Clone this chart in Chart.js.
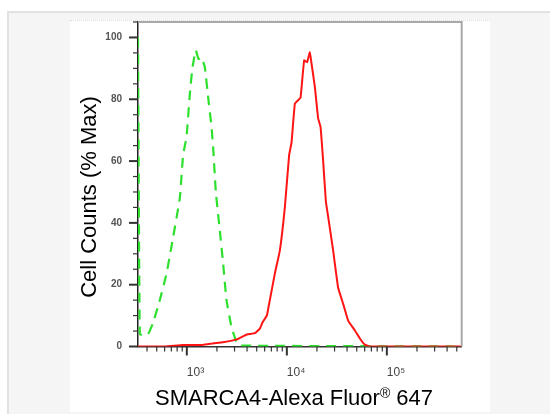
<!DOCTYPE html>
<html>
<head>
<meta charset="utf-8">
<script src="https://cdn.jsdelivr.net/npm/chart.js@4.4.1/dist/chart.umd.min.js"></script>
<style>
  html, body { margin:0; padding:0; background:#ffffff; width:550px; height:414px; overflow:hidden; }
  #outer { position:absolute; left:7px; top:11px; width:543px; height:403px; background:#f5f5f5;
           border-top:2px solid #e2e2e2; border-left:2px solid #e2e2e2; box-sizing:border-box; }
  #panel { position:absolute; left:70px; top:20px; width:420px; height:392px; background:#ffffff; }
  #panel::before { content:""; position:absolute; left:0; top:0; width:100%; border-top:1px dotted #dcdcdc; }
</style>
</head>
<body>
<div id="outer"></div>
<div id="panel"><canvas id="c"></canvas></div>
<script>
// ---- Data (fluorescence intensity vs % of max) ----
const redIntensity = [325, 603, 912, 1445, 1820, 2291, 3162, 3981, 4786, 5370, 5754, 6310, 6761, 7586, 8511, 9550,
  10546, 11140, 12023, 12882, 13710, 14890, 15960, 16982, 17660, 19055, 20560, 21730, 23070, 24547,
  25880, 29040, 32580, 36560, 41020, 47860, 53700, 60260, 67600, 560000];
const redCount = [0, 0, 0.5, 0.5, 1, 1.4, 2.3, 3.9, 4.3, 5.8, 8, 10, 15, 23.6, 31, 45,
  62, 66, 78.6, 79.6, 80.5, 92.6, 92, 95.2, 91.5, 84, 73.8, 71, 60, 47,
  42, 31, 19, 13.8, 8.4, 5.2, 2.6, 0.6, 0, 0];

const greenIntensity = [325, 339, 380, 410, 457, 537, 627, 730, 851, 918, 993, 1072, 1140, 1230, 1309, 1403,
  1514, 1633, 1766, 1832, 1950, 2138, 2307, 2495, 2799, 3141, 3388, 560000];
const greenCount = [100, 4, 3.5, 4, 7.4, 15, 23.6, 35.4, 48, 62, 67.7, 81.8, 90.4, 95.8, 93, 93.6,
  90.4, 80.7, 71, 64.5, 50, 37.5, 26.8, 14.9, 6.2, 1.4, 0.3, 0];

const yMajorTicks = [0, 20, 40, 60, 80, 100];
const xMajorTicks = [1000, 10000, 100000];
const xTickLabels = ['10\u00B3', '10\u2074', '10\u2075'];

const xTitle = 'SMARCA4-Alexa Fluor';
const xTitleSup = '\u00AE';
const xTitleTail = ' 647';
const yTitle = 'Cell Counts (% Max)';

const toPts = (xs, ys) => xs.map((v, i) => ({x: v, y: ys[i]}));

const FONT = '"Liberation Sans", Arial, sans-serif';

const decorations = {
  id: 'decorations',
  afterDraw(chart) {
    const {ctx, chartArea: a, scales: {x, y}} = chart;
    ctx.save();
    // frame top/right
    ctx.strokeStyle = '#a8a8a8';
    ctx.lineWidth = 2;
    ctx.beginPath();
    ctx.moveTo(a.left, a.top); ctx.lineTo(a.right, a.top); ctx.lineTo(a.right, a.bottom);
    ctx.stroke();
    // y tick marks
    ctx.strokeStyle = '#333';
    for (let v = 0; v <= 105; v += 5) {
      const p = y.getPixelForValue(v);
      const major = v % 20 === 0;
      ctx.lineWidth = major ? 2 : 1.2;
      ctx.beginPath();
      ctx.moveTo(a.left - (major ? 9 : 5), p);
      ctx.lineTo(a.left, p);
      ctx.stroke();
    }
    // x tick marks
    for (let k = 2; k <= 5; k++) {
      for (let m = 1; m <= 9; m++) {
        const v = m * Math.pow(10, k);
        if (v < x.min || v > x.max) continue;
        const p = x.getPixelForValue(v);
        const major = m === 1;
        ctx.lineWidth = major ? 2 : 1.2;
        ctx.beginPath();
        ctx.moveTo(p, a.bottom);
        ctx.lineTo(p, a.bottom + (major ? 9 : 5));
        ctx.stroke();
      }
    }
    // axis titles
    ctx.fillStyle = '#000';
    const big = '22px ' + FONT, small = '14px ' + FONT;
    ctx.font = big;
    const w1 = ctx.measureText(xTitle).width;
    const w3 = ctx.measureText(xTitleTail).width;
    ctx.font = small;
    const w2 = ctx.measureText(xTitleSup).width;
    const total = w1 + w2 + w3;
    const cx = 224, by = 385;
    let sx = cx - total / 2;
    ctx.textBaseline = 'alphabetic';
    ctx.textAlign = 'left';
    ctx.font = big; ctx.fillText(xTitle, sx, by);
    ctx.font = small; ctx.fillText(xTitleSup, sx + w1, by - 7);
    ctx.font = big; ctx.fillText(xTitleTail, sx + w1 + w2, by);
    ctx.translate(26, 177);
    ctx.rotate(-Math.PI / 2);
    ctx.textAlign = 'center';
    ctx.fillText(yTitle, 0, 0);
    ctx.restore();
  }
};

new Chart(document.getElementById('c'), {
  type: 'line',
  data: {
    datasets: [
      {
        label: 'SMARCA4',
        data: toPts(redIntensity, redCount),
        borderColor: '#ff1414',
        borderWidth: 2,
        pointRadius: 0,
        tension: 0.1,
        fill: false
      },
      {
        label: 'Isotype',
        data: toPts(greenIntensity, greenCount),
        borderColor: '#2ee02e',
        borderWidth: 2.2,
        borderDash: [10, 7],
        pointRadius: 0,
        tension: 0.1,
        fill: false
      }
    ]
  },
  options: {
    responsive: true,
    maintainAspectRatio: false,
    animation: false,
    layout: { padding: { left: 0, top: 2, right: 28.3, bottom: 0 } },
    plugins: { legend: { display: false }, tooltip: { enabled: false } },
    scales: {
      x: {
        type: 'logarithmic',
        min: 325,
        max: 560000,
        grid: { display: false, drawTicks: false },
        border: { display: true, color: '#333', width: 1.5 },
        afterBuildTicks: (s) => { s.ticks = xMajorTicks.map(v => ({value: v, major: true})); },
        afterFit: (s) => { s.height = 65.5; s.paddingLeft = 0; s.paddingRight = 0; },
        ticks: {
          autoSkip: false,
          maxRotation: 0,
          align: 'start',
          padding: 19,
          color: '#444',
          font: { family: FONT, size: 12 },
          callback: (v) => { const i = xMajorTicks.indexOf(v); return i >= 0 ? xTickLabels[i] : ''; }
        }
      },
      y: {
        min: 0,
        max: 105,
        grid: { display: false, drawTicks: false },
        border: { display: true, color: '#222', width: 1.5 },
        afterBuildTicks: (s) => { s.ticks = yMajorTicks.map(v => ({value: v})); },
        afterFit: (s) => { s.width = 68; s.paddingTop = 0; s.paddingBottom = 0; },
        ticks: {
          autoSkip: false,
          padding: 16,
          color: '#555',
          font: { family: FONT, size: 10, weight: 'bold' }
        }
      }
    }
  },
  plugins: [decorations]
});
</script>
</body>
</html>
